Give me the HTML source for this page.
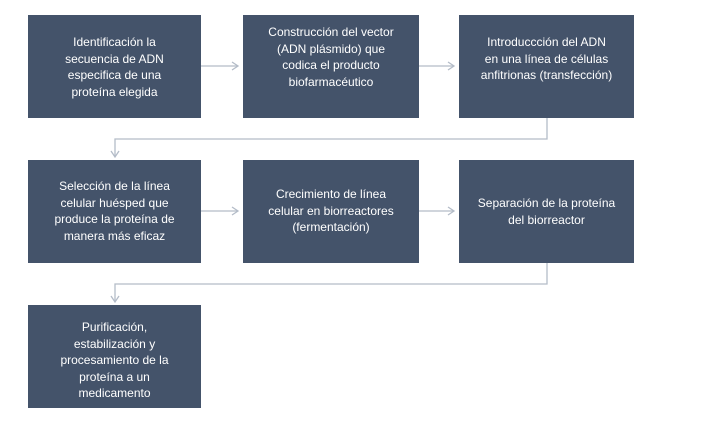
<!DOCTYPE html>
<html><head><meta charset="utf-8"><style>
body{margin:0;width:706px;height:423px;background:#fff;position:relative;overflow:hidden;font-family:"Liberation Sans",sans-serif;}
.b{position:absolute;background:#44536a;color:#fff;font-size:12px;line-height:16.5px;text-align:center;display:flex;justify-content:center;box-sizing:border-box;padding:0 16px;}
svg{position:absolute;left:0;top:0}
</style></head><body>
<svg width="706" height="423"><g stroke="#b4bcc8" stroke-width="1.3" fill="none">
<line x1="201" y1="66" x2="238" y2="66"/><polyline points="232,62 238,66 232,70"/>
<line x1="419" y1="66" x2="454" y2="66"/><polyline points="448,62 454,66 448,70"/>
<polyline points="547,118 547,139 115,139 115,157"/><polyline points="111,151 115,157 119,151"/>
<line x1="201" y1="211" x2="238" y2="211"/><polyline points="232,207 238,211 232,215"/>
<line x1="419" y1="211" x2="454" y2="211"/><polyline points="448,207 454,211 448,215"/>
<polyline points="547,263 547,284 115,284 115,302"/><polyline points="111,296 115,302 119,296"/>
</g></svg>
<div class="b" style="left:28px;top:15px;width:173px;height:103px;padding-top:19px;padding-left:22px;padding-right:22px">Identificación la secuencia de ADN especifica de una proteína elegida</div>
<div class="b" style="left:243px;top:15px;width:176px;height:103px;padding-top:9px;padding-left:20px;padding-right:20px">Construcción del vector (ADN plásmido) que codica el producto biofarmacéutico</div>
<div class="b" style="left:459px;top:15px;width:175px;height:103px;padding:19px 2px 0"><span>Introduccción del ADN<br>en una línea de células<br>anfitrionas (transfección)</span></div>
<div class="b" style="left:28px;top:160px;width:173px;height:103px;padding-top:18px;padding-left:12px;padding-right:12px">Selección de la línea celular huésped que produce la proteína de manera más eficaz</div>
<div class="b" style="left:243px;top:160px;width:176px;height:103px;padding-top:26px;padding-left:22px;padding-right:22px">Crecimiento de línea celular en biorreactores (fermentación)</div>
<div class="b" style="left:459px;top:160px;width:175px;height:103px;padding:35px 2px 0"><span>Separación de la proteína<br>del biorreactor</span></div>
<div class="b" style="left:28px;top:305px;width:173px;height:103px;padding-top:14px;padding-left:24px;padding-right:24px">Purificación, estabilización y procesamiento de la proteína a un medicamento</div>
</body></html>
